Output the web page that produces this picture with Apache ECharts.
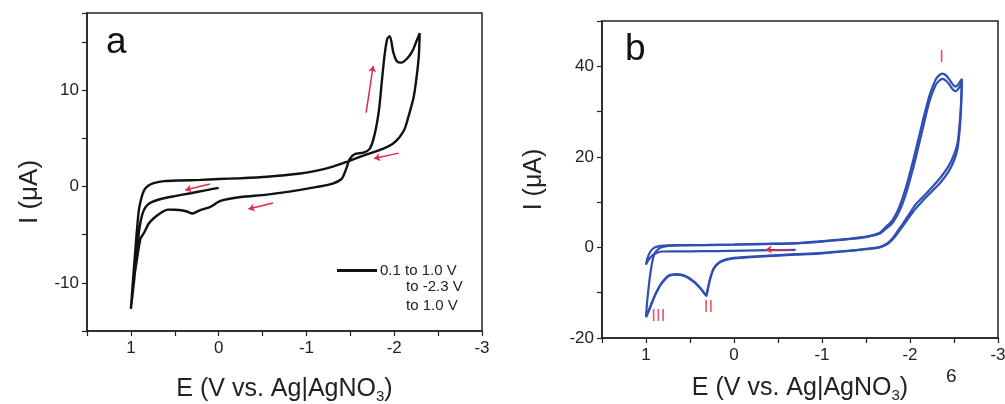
<!DOCTYPE html>
<html>
<head>
<meta charset="utf-8">
<script src="https://cdn.jsdelivr.net/npm/echarts@6/dist/echarts.min.js"></script>
<style>
  html, body { margin: 0; padding: 0; background: #fff; }
  #chart { width: 1005px; height: 404px; }
</style>
</head>
<body>
<div id="chart"></div>
<script>
// ---- Panel a: one sweep 0.1 -> 1.0 V -> -2.3 V -> 1.0 V (potential in V, current in uA)
const aPotential = [
  0.00, 0.15, 0.32, 0.50, 0.66, 0.77, 0.83, 0.87, 0.90, 0.93, 0.96, 1.00,
  0.97, 0.94, 0.91, 0.88, 0.85, 0.80, 0.74, 0.62, 0.45, 0.21, 0.00, -0.25, -0.55, -0.93,
  -1.12, -1.30, -1.49, -1.68, -1.87, -1.98, -2.06, -2.12, -2.17, -2.22, -2.25, -2.28, -2.29,
  -2.25, -2.21, -2.15, -2.08, -2.03, -1.99, -1.95, -1.92, -1.89, -1.86, -1.83, -1.80, -1.76,
  -1.72, -1.65, -1.55, -1.49, -1.46, -1.43, -1.40, -1.30, -1.12, -0.93, -0.55, -0.25, -0.02,
  0.10, 0.21, 0.30, 0.36, 0.41, 0.50, 0.58, 0.66, 0.74, 0.80, 0.85, 0.89, 0.93, 0.97, 1.00
];
const aCurrent = [
  -0.15, -0.40, -0.70, -1.00, -1.30, -1.65, -2.10, -2.90, -4.20, -6.50, -9.50, -12.70,
  -9.00, -5.50, -2.50, -1.20, -0.40, 0.10, 0.35, 0.55, 0.62, 0.68, 0.77, 0.85, 1.00, 1.35,
  1.65, 2.05, 2.66, 3.30, 3.90, 4.40, 5.10, 6.00, 7.50, 9.20, 11.00, 13.50, 15.90,
  15.00, 14.10, 13.30, 12.85, 13.00, 13.90, 15.60, 15.30, 13.60, 11.00, 8.20, 6.40, 4.80,
  3.90, 3.50, 3.36, 2.80, 2.00, 1.30, 0.77, 0.30, -0.05, -0.35, -0.85, -1.10, -1.50,
  -2.15, -2.45, -2.80, -2.60, -2.50, -2.42, -2.40, -2.75, -3.30, -3.90, -4.80, -5.40, -7.50, -10.00, -12.70
];
// red direction arrows for panel a: [E start, I start, E head, I head]
const aArrows = [
  [0.10, 0.25, 0.38, -0.37],
  [-0.62, -1.72, -0.34, -2.34],
  [-2.05, 3.46, -1.77, 2.90],
  [-1.68, 7.67, -1.76, 12.50]
];
const aLegendLines = ['0.1 to 1.0 V', 'to -2.3 V', 'to 1.0 V'];

// ---- Panel b: repeated cycles
const bStartPotential = [-0.70, -0.40, -0.10, 0.20, 0.50, 0.70, 0.82, 0.88, 0.93, 0.97];
const bStartCurrent   = [-0.55, -0.60, -0.70, -0.80, -0.85, -0.85, -0.90, -1.20, -1.80, -2.70];
const bLoopPotential = [
  1.00, 0.985, 0.95, 0.91, 0.85, 0.75, 0.60, 0.30, 0.00, -0.35, -0.70, -1.00, -1.30, -1.53,
  -1.65, -1.73, -1.80, -1.875, -1.95, -2.04, -2.14, -2.22, -2.29, -2.33, -2.37, -2.41, -2.45,
  -2.49, -2.52, -2.555, -2.59,
  -2.58, -2.565, -2.54, -2.50, -2.44, -2.35, -2.25, -2.15, -2.06, -1.98, -1.91, -1.85, -1.80,
  -1.74, -1.65, -1.50, -1.25, -1.00, -0.70, -0.40, -0.15, 0.00, 0.10, 0.17, 0.23, 0.27, 0.30,
  0.315, 0.34, 0.38, 0.45, 0.55, 0.65, 0.74, 0.82, 0.88, 0.93, 0.97, 1.00
];
const bCycle1Current = [
  -3.8, -2.4, -0.9, -0.1, 0.3, 0.45, 0.5, 0.55, 0.65, 0.8, 0.95, 1.4, 1.9, 2.5,
  3.2, 4.6, 6.0, 8.8, 13.0, 19.5, 27.5, 33.5, 37.0, 38.0, 38.4, 38.0, 37.0,
  35.9, 35.5, 36.2, 37.2,
  32.0, 27.5, 23.0, 20.5, 18.0, 15.5, 13.3, 11.2, 9.4, 7.0, 5.0, 3.3, 2.0,
  0.9, 0.1, -0.3, -0.8, -1.2, -1.5, -1.8, -2.1, -2.3, -2.7, -3.3, -4.6, -6.8, -9.3,
  -10.6, -10.0, -9.0, -7.6, -6.3, -5.9, -6.2, -7.8, -9.8, -12.0, -14.0, -15.3
];
const bCycle2Current = [
  -15.3, -11.6, -5.7, -1.7, -0.2, 0.35, 0.45, 0.5, 0.6, 0.75, 0.9, 1.3, 1.8, 2.4,
  3.0, 4.2, 5.4, 7.8, 11.6, 17.8, 25.8, 32.2, 35.8, 36.8, 37.2, 36.8, 35.9,
  34.8, 34.5, 35.2, 36.4,
  30.5, 26.0, 21.8, 19.2, 16.8, 14.4, 12.4, 10.4, 8.5, 6.4, 4.5, 2.9, 1.7,
  0.7, -0.05, -0.4, -0.9, -1.3, -1.6, -1.9, -2.2, -2.4, -2.8, -3.4, -4.7, -6.9, -9.4,
  -10.7, -10.1, -9.1, -7.7, -6.4, -6.0, -6.3, -7.9, -9.9, -12.1, -14.1, -15.4
];
const bArrows = [[-0.66, -0.45, -0.36, -0.45]];
// peak labels: [E, I, text]
const bPeakLabels = [[-2.36, 42.0, 'I'], [0.29, -13.3, 'II'], [0.86, -15.3, 'III']];

const FONT = 'Liberation Sans, Arial, sans-serif';
const INK = '#222';
const BLUE = '#2f4fb3';
const RED = '#de2a48';

const pairs = (xs, ys) => xs.map((x, i) => [x, ys[i]]);
const arrowLines = list => list.map(a => [{ coord: [a[0], a[1]] }, { coord: [a[2], a[3]] }]);

function xAxisFor(gridIndex, nameGap) {
  return {
    gridIndex, type: 'value', inverse: true, min: -3, max: 1.5, interval: 0.5,
    name: 'E (V vs. Ag|AgNO{s|3})', nameLocation: 'middle', nameGap,
    nameTextStyle: {
      fontFamily: FONT, fontSize: 25, color: INK,
      rich: { s: { fontFamily: FONT, fontSize: 15, color: INK, padding: [15, 0, 0, 0] } }
    },
    axisLine: { onZero: false, lineStyle: { color: INK, width: 1.5 } },
    axisTick: { length: 5, lineStyle: { color: INK, width: 1.2 } },
    axisLabel: {
      fontFamily: FONT, fontSize: 17, color: INK, margin: 9,
      formatter: v => (Number.isInteger(v) ? String(v) : '')
    },
    splitLine: { show: false }
  };
}

function yAxisFor(gridIndex, min, max, interval, labelStep, nameGap, namePad, nameSize) {
  return {
    gridIndex, type: 'value', min, max, interval,
    name: 'I (\u03bcA)', nameLocation: 'middle', nameGap,
    nameTextStyle: { fontFamily: FONT, fontSize: nameSize, color: INK, padding: namePad },
    axisLine: { onZero: false, lineStyle: { color: INK, width: 1.5 } },
    axisTick: { length: 5, lineStyle: { color: INK, width: 1.2 } },
    axisLabel: {
      fontFamily: FONT, fontSize: 17, color: INK, margin: 8,
      formatter: v => (v % labelStep === 0 ? String(v) : '')
    },
    splitLine: { show: false }
  };
}

const chart = echarts.init(document.getElementById('chart'), null, { renderer: 'canvas' });

// fixed plot boxes: no automatic shrinking to fit axis names
const gridBase = {
  show: true, borderColor: INK, borderWidth: 1.5,
  containLabel: false, outerBoundsMode: 'none'
};

chart.setOption({
  animation: false,
  backgroundColor: '#fff',
  grid: [
    Object.assign({ left: 87, top: 13, width: 395, height: 318 }, gridBase),
    Object.assign({ left: 602, top: 21, width: 396, height: 317 }, gridBase)
  ],
  xAxis: [xAxisFor(0, 43), xAxisFor(1, 35)],
  yAxis: [
    yAxisFor(0, -15, 18, 5, 10, 44, [0, 40, 0, 0], 26),
    yAxisFor(1, -20, 50, 10, 20, 55, [0, 0, 0, 0], 25)
  ],
  legend: {
    data: [aLegendLines[0]], left: 332, top: 258, selectedMode: false,
    icon: 'rect', itemWidth: 40, itemHeight: 3, itemGap: 0,
    textStyle: { fontFamily: FONT, fontSize: 15, color: INK, padding: [0, 0, 0, -2] }
  },
  graphic: [
    { type: 'text', left: 106, top: 24, style: { text: 'a', fontFamily: FONT, fontSize: 37, fill: '#111' } },
    { type: 'text', left: 625, top: 31, style: { text: 'b', fontFamily: FONT, fontSize: 37, fill: '#111' } },
    { type: 'text', left: 406, top: 279, style: { text: aLegendLines[1], fontFamily: FONT, fontSize: 15, fill: INK } },
    { type: 'text', left: 406, top: 298, style: { text: aLegendLines[2], fontFamily: FONT, fontSize: 15, fill: INK } },
    { type: 'text', left: 946, top: 367, style: { text: '6', fontFamily: FONT, fontSize: 19, fill: INK } }
  ],
  series: [
    {
      name: 'arrows a', type: 'line', xAxisIndex: 0, yAxisIndex: 0, data: [], z: 3,
      markLine: {
        silent: true, symbol: ['none', 'arrow'], symbolSize: 6, animation: false,
        label: { show: false }, lineStyle: { color: RED, width: 1.5, type: 'solid' },
        data: arrowLines(aArrows)
      }
    },
    {
      name: aLegendLines[0], type: 'line', xAxisIndex: 0, yAxisIndex: 0,
      data: pairs(aPotential, aCurrent), symbol: 'none', smooth: 0.25, z: 4,
      lineStyle: { color: '#111', width: 2.4 }, itemStyle: { color: '#111' }
    },
    {
      name: 'arrows b', type: 'line', xAxisIndex: 1, yAxisIndex: 1, data: [], z: 2,
      markLine: {
        silent: true, symbol: ['none', 'arrow'], symbolSize: 6, animation: false,
        label: { show: false }, lineStyle: { color: RED, width: 1.5, type: 'solid' },
        data: arrowLines(bArrows)
      }
    },
    {
      name: 'cycle 1', type: 'line', xAxisIndex: 1, yAxisIndex: 1, symbol: 'none', smooth: 0.25, z: 4,
      data: pairs(bStartPotential, bStartCurrent).concat(pairs(bLoopPotential, bCycle1Current)),
      lineStyle: { color: BLUE, width: 2.2 }
    },
    {
      name: 'cycle 2', type: 'line', xAxisIndex: 1, yAxisIndex: 1, symbol: 'none', smooth: 0.25, z: 4,
      data: pairs(bLoopPotential, bCycle2Current),
      lineStyle: { color: BLUE, width: 2.2 }
    },
    {
      name: 'peaks', type: 'scatter', xAxisIndex: 1, yAxisIndex: 1, symbolSize: 0, z: 5, silent: true,
      data: bPeakLabels,
      label: {
        show: true, position: 'inside', formatter: p => p.data[2],
        fontFamily: FONT, fontSize: 17, color: RED
      }
    }
  ]
});
</script>
</body>
</html>
